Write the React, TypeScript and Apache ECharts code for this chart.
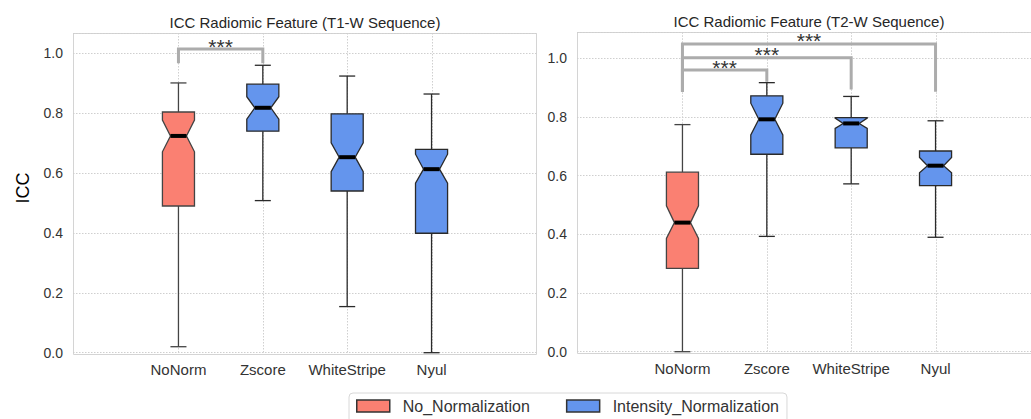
import React, { useEffect, useRef } from "react";
import * as echarts from "echarts";

// ---------- data ----------
const categories = ["NoNorm", "Zscore", "WhiteStripe", "Nyul"];
const legendNames = ["No_Normalization", "Intensity_Normalization"];
const yTicks = [0, 0.2, 0.4, 0.6, 0.8, 1.0];

// [whiskerLow, Q1, notchLow, median, notchHigh, Q3, whiskerHigh]
const t1NoNorm = [0.02, 0.49, 0.671, 0.724, 0.777, 0.804, 0.901];
const t1Zscore = [0.508, 0.74, 0.78, 0.818, 0.855, 0.897, 0.96];
const t1WhiteStripe = [0.154, 0.54, 0.605, 0.653, 0.701, 0.798, 0.924];
const t1Nyul = [0.0, 0.399, 0.566, 0.613, 0.663, 0.679, 0.864];

const t2NoNorm = [0.0, 0.284, 0.386, 0.44, 0.497, 0.612, 0.774];
const t2Zscore = [0.393, 0.673, 0.739, 0.792, 0.847, 0.872, 0.917];
const t2WhiteStripe = [0.572, 0.695, 0.761, 0.778, 0.796, 0.798, 0.87];
const t2Nyul = [0.39, 0.566, 0.61, 0.634, 0.662, 0.684, 0.787];

// brackets: [fromIndex, toIndex, top, legFrom, legTo]
const t1Brackets = [[0, 1, 1.014, 0.967, 0.967]];
const t2Brackets = [
  [0, 1, 0.96, 0.886, 0.92],
  [0, 2, 1.002, 0.886, 0.894],
  [0, 3, 1.049, 0.886, 0.886],
];
const sigLabel = "***";

const titles = [
  "ICC Radiomic Feature (T1-W Sequence)",
  "ICC Radiomic Feature (T2-W Sequence)",
];

// ---------- style ----------
const FONT = "'Liberation Sans', Arial, sans-serif";
const RED = "#FA8072";
const BLUE = "#6495ED";
const BOX_W = 0.38;

function makeBoxRender(fill: string, edge: string) {
  return (params: any, api: any) => {
    const x = api.value(0);
    const wl = api.value(1), q1 = api.value(2), nl = api.value(3), md = api.value(4);
    const nh = api.value(5), q3 = api.value(6), wh = api.value(7);
    const cx = api.coord([x, md])[0];
    const y = (v: number) => api.coord([x, v])[1];
    const half = api.size([BOX_W, 0])[0] / 2;
    const inner = half / 2;
    const xl = cx - half, xr = cx + half;
    const lw = 1.3;
    return {
      type: "group",
      children: [
        { type: "line", shape: { x1: cx, y1: y(q3), x2: cx, y2: y(wh) }, style: { stroke: edge, lineWidth: lw } },
        { type: "line", shape: { x1: cx - inner, y1: y(wh), x2: cx + inner, y2: y(wh) }, style: { stroke: edge, lineWidth: lw } },
        { type: "line", shape: { x1: cx, y1: y(q1), x2: cx, y2: y(wl) }, style: { stroke: edge, lineWidth: lw } },
        { type: "line", shape: { x1: cx - inner, y1: y(wl), x2: cx + inner, y2: y(wl) }, style: { stroke: edge, lineWidth: lw } },
        {
          type: "polygon",
          shape: {
            points: [
              [xl, y(q1)], [xr, y(q1)], [xr, y(nl)], [cx + inner, y(md)], [xr, y(nh)], [xr, y(q3)],
              [xl, y(q3)], [xl, y(nh)], [cx - inner, y(md)], [xl, y(nl)],
            ],
          },
          style: { fill, stroke: edge, lineWidth: lw, lineJoin: "miter" },
        },
        { type: "line", shape: { x1: cx - inner, y1: y(md), x2: cx + inner, y2: y(md) }, style: { stroke: "#000", lineWidth: 4 } },
      ],
    };
  };
}

function renderBracket(params: any, api: any) {
  const a = api.value(0), b = api.value(1), top = api.value(2), la = api.value(3), lb = api.value(4);
  const p1 = api.coord([a, la]);
  const p2 = api.coord([a, top]);
  const p3 = api.coord([b, top]);
  const p4 = api.coord([b, lb]);
  return {
    type: "group",
    children: [
      { type: "polyline", shape: { points: [p1, p2, p3, p4] }, style: { stroke: "#acacac", lineWidth: 3, fill: null } },
      {
        type: "text",
        x: (p2[0] + p3[0]) / 2,
        y: p2[1] - 3,
        style: { text: sigLabel, fill: "#333", font: `21px ${FONT}`, align: "center", verticalAlign: "middle" },
      },
    ],
  };
}

function renderVGrid(params: any, api: any) {
  const x = api.value(0);
  const p1 = api.coord([x, 0]);
  const top = params.coordSys.y;
  const bottom = params.coordSys.y + params.coordSys.height;
  return {
    type: "line",
    shape: { x1: Math.round(p1[0]) + 0.5, y1: top, x2: Math.round(p1[0]) + 0.5, y2: bottom },
    style: { stroke: "#cfcfcf", lineWidth: 1, lineDash: [1.5, 1.5] },
  };
}

function xLabel(v: number) {
  const i = Math.round(v);
  return Math.abs(v - i) < 1e-6 && i >= 0 && i < categories.length ? categories[i] : "";
}
function yLabel(v: number) {
  return yTicks.some((t) => Math.abs(t - v) < 1e-6) ? v.toFixed(1) : "";
}

const grids = [
  { left: 73, top: 33, width: 464, height: 319.7, ymax: 1.0678 },
  { left: 577, top: 32.3, width: 464, height: 319.4, ymax: 1.0886 },
];

export default function App() {
  const ref = useRef<HTMLDivElement>(null);
  useEffect(() => {
    if (!ref.current) return;
    const chart = echarts.init(ref.current, null, { renderer: "svg" });
    const panels = [
      { red: [[0, ...t1NoNorm]], blue: [[1, ...t1Zscore], [2, ...t1WhiteStripe], [3, ...t1Nyul]], br: t1Brackets },
      { red: [[0, ...t2NoNorm]], blue: [[1, ...t2Zscore], [2, ...t2WhiteStripe], [3, ...t2Nyul]], br: t2Brackets },
    ];
    const series: any[] = [];
    panels.forEach((p, k) => {
      series.push({
        type: "custom", name: "grid" + k, xAxisIndex: k, yAxisIndex: k, z: 1, silent: true,
        renderItem: renderVGrid, data: categories.map((_, i) => [i]), encode: { x: 0 },
      });
      series.push({
        type: "custom", name: legendNames[0], xAxisIndex: k, yAxisIndex: k, z: 3,
        itemStyle: { color: RED }, renderItem: makeBoxRender(RED, "#444"), data: p.red,
        encode: { x: 0, y: [1, 2, 3, 4, 5, 6, 7] },
      });
      series.push({
        type: "custom", name: legendNames[1], xAxisIndex: k, yAxisIndex: k, z: 3,
        itemStyle: { color: BLUE }, renderItem: makeBoxRender(BLUE, "#2a2a2a"), data: p.blue,
        encode: { x: 0, y: [1, 2, 3, 4, 5, 6, 7] },
      });
      series.push({
        type: "custom", name: "sig" + k, xAxisIndex: k, yAxisIndex: k, z: 4, silent: true,
        renderItem: renderBracket, data: p.br, encode: { x: [0, 1], y: [2, 3, 4] },
      });
    });

    chart.setOption({
      animation: false,
      grid: grids.map((g) => ({
        left: g.left, top: g.top, width: g.width, height: g.height, containLabel: false, outerBoundsMode: "none",
      })),
      xAxis: grids.map((g, k) => ({
        type: "value", gridIndex: k, min: -1.25, max: 4.25, interval: 0.25,
        axisLine: { show: false }, axisTick: { show: false }, splitLine: { show: false },
        axisLabel: { formatter: xLabel, fontSize: 15, color: "#333", fontFamily: FONT, margin: 9, showMinLabel: true, showMaxLabel: true },
      })),
      yAxis: grids.map((g, k) => ({
        type: "value", gridIndex: k, min: 0, max: g.ymax, interval: 0.2,
        axisLine: { show: false }, axisTick: { show: false },
        splitLine: { show: true, lineStyle: { type: [1.5, 1.5], color: "#cfcfcf", width: 1 } },
        axisLabel: { formatter: yLabel, fontSize: 14, color: "#333", fontFamily: FONT, margin: 10 },
      })),
      legend: {
        left: 349, top: 393,
        data: [
          { name: legendNames[0], itemStyle: { color: RED, borderColor: "#333", borderWidth: 1.5 } },
          { name: legendNames[1], itemStyle: { color: BLUE, borderColor: "#333", borderWidth: 1.5 } },
        ],
        icon: "rect", itemWidth: 33, itemHeight: 12, itemGap: 36,
        padding: [5, 8, 20, 7],
        backgroundColor: "#fff", borderColor: "#d8d8d8", borderWidth: 1, borderRadius: 4,
        textStyle: { fontSize: 16, color: "#333", fontFamily: FONT, padding: [0, 0, 0, 8] },
        selectedMode: false,
      },
      graphic: [
        { type: "rect", z: 0, shape: { x: 73.5, y: 33.5, width: 463, height: 321 }, style: { fill: "none", stroke: "#d4d4d4", lineWidth: 1 } },
        { type: "rect", z: 0, shape: { x: 577.5, y: 32.5, width: 470, height: 321 }, style: { fill: "none", stroke: "#d4d4d4", lineWidth: 1 } },
        { type: "text", x: 305, y: 22, style: { text: titles[0], font: `15px ${FONT}`, fill: "#262626", align: "center", verticalAlign: "middle" } },
        { type: "text", x: 809, y: 21, style: { text: titles[1], font: `15px ${FONT}`, fill: "#262626", align: "center", verticalAlign: "middle" } },
        { type: "text", x: 23, y: 188, rotation: Math.PI / 2, style: { text: "ICC", font: `18px ${FONT}`, fill: "#000", align: "center", verticalAlign: "middle" } },
      ],
      series,
    });
    return () => chart.dispose();
  }, []);
  return <div ref={ref} style={{ position: "absolute", left: 0, top: 0, width: 1031, height: 419 }} />;
}
